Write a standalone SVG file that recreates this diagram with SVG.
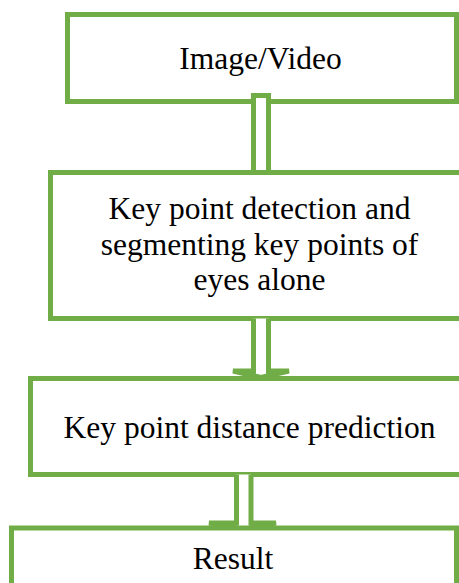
<svg xmlns="http://www.w3.org/2000/svg" width="459" height="583" viewBox="0 0 459 583">
  <style>
    .box { fill: #ffffff; stroke: #70AD47; stroke-width: 5; }
    .arrow { fill: #ffffff; stroke: #70AD47; stroke-width: 5; stroke-linejoin: miter; }
    .label { font-family: "Liberation Serif", "Times New Roman", serif; font-size: 31.5px; fill: #000000; text-anchor: middle; }
  </style>

  <g id="node-input">
    <rect class="box" x="67.5" y="14.5" width="389" height="87"/>
    <text class="label" x="260.5" y="69">Image/Video</text>
  </g>

  <g id="connectors">
    <!-- input to key point detection: hollow shaft -->
    <path class="arrow" d="M253.5,95.5 H268.5 V172.5 H253.5 Z"/>
  </g>

  <g id="node-detection">
    <rect class="box" x="50.5" y="172.5" width="450" height="146"/>
    <text class="label" x="259.5" y="219">Key point detection and</text>
    <text class="label" x="259.5" y="254.5">segmenting key points of</text>
    <text class="label" x="259.5" y="290">eyes alone</text>
  </g>

  <g id="connectors-2">
    <!-- detection to distance prediction -->
    <path class="arrow" d="M253.5,318.5 V371 H233 L261,377.5 L289,371 H268.5 V318.5"/>
  </g>

  <g id="node-distance">
    <rect class="box" x="30.5" y="378.5" width="450" height="96"/>
    <text class="label" x="249.5" y="438">Key point distance prediction</text>
  </g>

  <g id="connectors-3">
    <!-- distance prediction to result -->
    <path class="arrow" d="M236.5,474.5 V523 H209 L243.5,529.5 L276,523 H251 V474.5"/>
  </g>

  <g id="node-result">
    <rect class="box" x="11.5" y="528" width="445" height="80"/>
    <text class="label" x="233" y="569">Result</text>
  </g>
</svg>
